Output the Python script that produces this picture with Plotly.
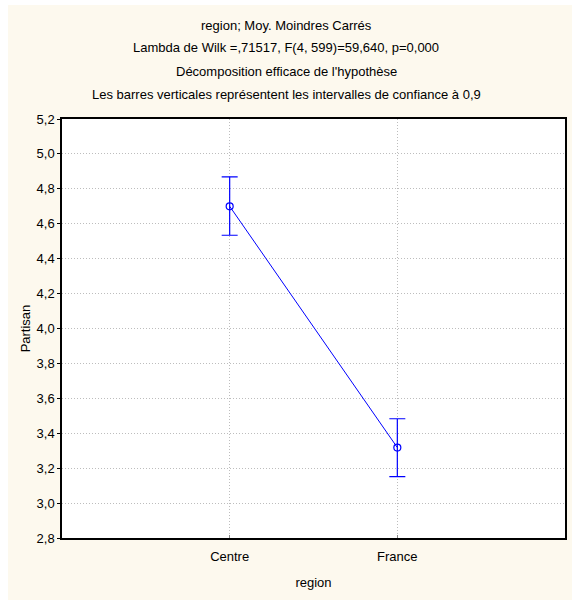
import plotly.graph_objects as go

categories = ["Centre", "France"]
means = [4.70, 3.318]
ci_plus = [0.169, 0.165]
ci_minus = [0.166, 0.166]
y_ticks = [2.8, 3.0, 3.2, 3.4, 3.6, 3.8, 4.0, 4.2, 4.4, 4.6, 4.8, 5.0, 5.2]
y_tick_labels = [f"{v:.1f}".replace(".", ",") for v in y_ticks]
title_lines = [
    "region; Moy. Moindres Carrés",
    "Lambda de Wilk =,71517, F(4, 599)=59,640, p=0,000",
    "Décomposition efficace de l'hypothèse",
    "Les barres verticales représentent les intervalles de confiance à 0,9",
]

FONT = "Liberation Sans, Arial, sans-serif"
BLUE = "#0000ff"
CREAM = "#fdf9ee"

W, H = 572, 600
L, R, T, B = 62, 7, 119, 62
PW, PH = W - L - R, H - T - B


def px(x):
    return (x - L) / PW


def py(y):
    return (H - B - y) / PH


x_pos = list(range(1, len(categories) + 1))

fig = go.Figure()
fig.add_trace(go.Scatter(
    x=x_pos, y=means,
    mode="lines+markers",
    line=dict(color=BLUE, width=1),
    marker=dict(symbol="circle-open", size=7, color=BLUE, line=dict(width=1.2)),
    error_y=dict(type="data", symmetric=False, array=ci_plus, arrayminus=ci_minus,
                 color=BLUE, thickness=1.2, width=8),
    showlegend=False,
))

annotations = []
title_y = [25, 48, 71, 95]
for txt, yp in zip(title_lines, title_y):
    annotations.append(dict(
        text=txt, xref="paper", yref="paper",
        x=px(286), y=py(yp),
        xanchor="center", yanchor="middle", showarrow=False,
        font=dict(family=FONT, size=13, color="#000000"),
    ))

fig.update_layout(
    width=W, height=H,
    margin=dict(l=L, r=R, t=T, b=B),
    paper_bgcolor=CREAM,
    plot_bgcolor="#ffffff",
    font=dict(family=FONT, size=13, color="#000000"),
    annotations=annotations,
    shapes=[
        dict(type="rect", xref="paper", yref="paper", x0=px(0), x1=px(8),
             y0=py(H), y1=py(0), fillcolor="#ffffff", line=dict(width=0), layer="below"),
        dict(type="rect", xref="paper", yref="paper", x0=px(0), x1=px(W),
             y0=py(5), y1=py(0), fillcolor="#ffffff", line=dict(width=0), layer="below"),
    ],
    xaxis=dict(
        range=[0, 3],
        tickvals=x_pos, ticktext=categories,
        showgrid=True, gridcolor="#bdbdbd", griddash="1px,2px", gridwidth=1,
        showline=True, linecolor="#000000", linewidth=1.5, mirror=True,
        ticks="inside", ticklen=3, tickcolor="#888888",
        ticklabelstandoff=6,
        zeroline=False,
        title=dict(text="region", standoff=15, font=dict(size=13)),
        tickfont=dict(size=13),
        automargin=False,
    ),
    yaxis=dict(
        range=[2.8, 5.2],
        tickvals=y_ticks, ticktext=y_tick_labels,
        showgrid=True, gridcolor="#bdbdbd", griddash="1px,2px", gridwidth=1,
        showline=True, linecolor="#000000", linewidth=1.5, mirror=True,
        ticks="outside", ticklen=3, tickcolor="#000000",
        zeroline=False,
        title=dict(text="Partisan", standoff=3, font=dict(size=13)),
        tickfont=dict(size=13),
        automargin=False,
    ),
)

fig.write_html(
    "out.html",
    config={"displayModeBar": False},
    post_script="document.body.style.margin='0';document.body.style.overflow='hidden';",
)
